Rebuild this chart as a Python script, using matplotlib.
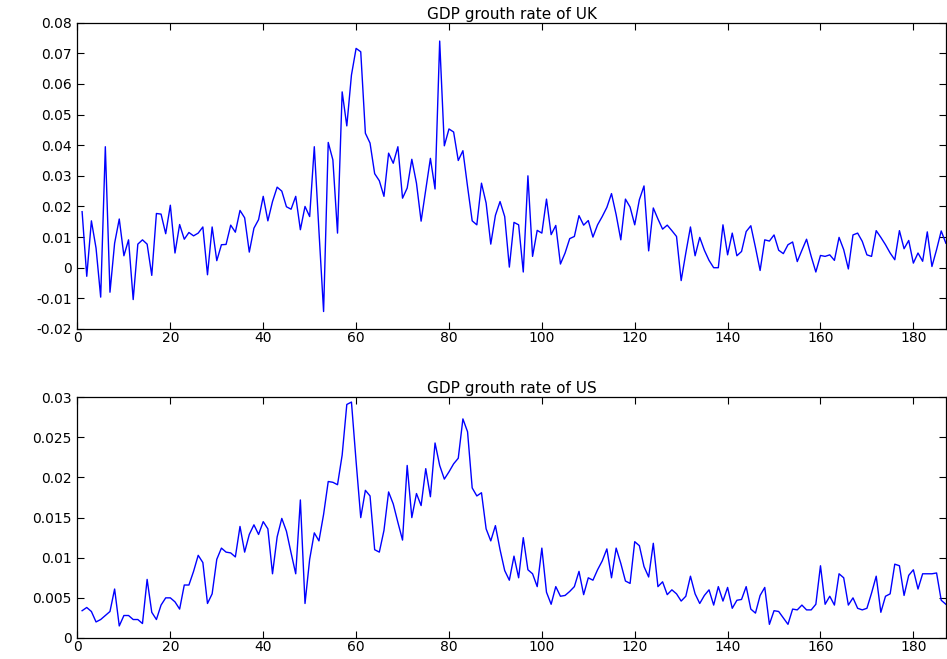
import matplotlib.pyplot as plt

# quarterly GDP growth rates (t = 1..187)
uk = [0.0183, -0.0028, 0.0153, 0.0064, -0.0096, 0.0395, -0.0080, 0.0080, 0.0159, 0.0039,
      0.0091, -0.0104, 0.0077, 0.0091, 0.0077, -0.0025, 0.0177, 0.0175, 0.0111, 0.0204,
      0.0048, 0.0141, 0.0093, 0.0115, 0.0104, 0.0113, 0.0133, -0.0023, 0.0133, 0.0023,
      0.0075, 0.0076, 0.0139, 0.0116, 0.0187, 0.0163, 0.0051, 0.0129, 0.0157, 0.0233,
      0.0153, 0.0216, 0.0263, 0.0250, 0.0199, 0.0191, 0.0233, 0.0124, 0.0200, 0.0167,
      0.0395, 0.0120, -0.0143, 0.0409, 0.0352, 0.0113, 0.0574, 0.0463, 0.0629, 0.0716,
      0.0705, 0.0439, 0.0407, 0.0307, 0.0284, 0.0233, 0.0374, 0.0341, 0.0395, 0.0227,
      0.0260, 0.0354, 0.0276, 0.0152, 0.0254, 0.0357, 0.0257, 0.0740, 0.0398, 0.0453,
      0.0443, 0.0350, 0.0382, 0.0265, 0.0153, 0.0140, 0.0276, 0.0211, 0.0077, 0.0171,
      0.0216, 0.0167, 0.0002, 0.0148, 0.0140, -0.0014, 0.0300, 0.0037, 0.0122, 0.0113,
      0.0224, 0.0108, 0.0138, 0.0012, 0.0048, 0.0095, 0.0102, 0.0170, 0.0139, 0.0154,
      0.0100, 0.0140, 0.0167, 0.0197, 0.0242, 0.0173, 0.0091, 0.0224, 0.0198, 0.0140,
      0.0222, 0.0267, 0.0055, 0.0195, 0.0159, 0.0126, 0.0139, 0.0121, 0.0102, -0.0042,
      0.0048, 0.0133, 0.0039, 0.0099, 0.0057, 0.0024, 0.0000, 0.0000, 0.0140, 0.0042,
      0.0113, 0.0039, 0.0053, 0.0118, 0.0137, 0.0066, -0.0009, 0.0091, 0.0087, 0.0107,
      0.0057, 0.0046, 0.0075, 0.0084, 0.0020, 0.0057, 0.0093, 0.0037, -0.0014, 0.0040,
      0.0037, 0.0042, 0.0024, 0.0099, 0.0059, -0.0004, 0.0107, 0.0113, 0.0086, 0.0042,
      0.0037, 0.0121, 0.0099, 0.0075, 0.0048, 0.0026, 0.0121, 0.0062, 0.0089, 0.0015,
      0.0048, 0.0021, 0.0117, 0.0004, 0.0059, 0.0120, 0.0080]

us = [0.0034, 0.0038, 0.0033, 0.0020, 0.0023, 0.0028, 0.0033, 0.0061, 0.0015, 0.0028,
      0.0028, 0.0023, 0.0023, 0.0018, 0.0073, 0.0032, 0.0023, 0.0041, 0.0050, 0.0050,
      0.0045, 0.0036, 0.0066, 0.0066, 0.0083, 0.0103, 0.0094, 0.0043, 0.0055, 0.0098,
      0.0112, 0.0107, 0.0106, 0.0101, 0.0139, 0.0107, 0.0129, 0.0141, 0.0129, 0.0145,
      0.0136, 0.0080, 0.0126, 0.0149, 0.0133, 0.0106, 0.0080, 0.0172, 0.0043, 0.0098,
      0.0131, 0.0121, 0.0154, 0.0195, 0.0194, 0.0191, 0.0228, 0.0291, 0.0294, 0.0220,
      0.0150, 0.0184, 0.0177, 0.0110, 0.0107, 0.0134, 0.0182, 0.0167, 0.0144, 0.0122,
      0.0215, 0.0150, 0.0180, 0.0165, 0.0211, 0.0176, 0.0243, 0.0215, 0.0198, 0.0207,
      0.0217, 0.0224, 0.0273, 0.0257, 0.0187, 0.0177, 0.0181, 0.0136, 0.0121, 0.0140,
      0.0110, 0.0084, 0.0072, 0.0102, 0.0075, 0.0125, 0.0085, 0.0080, 0.0064, 0.0112,
      0.0057, 0.0042, 0.0064, 0.0052, 0.0053, 0.0058, 0.0064, 0.0083, 0.0054, 0.0075,
      0.0072, 0.0085, 0.0096, 0.0111, 0.0075, 0.0112, 0.0093, 0.0071, 0.0068, 0.0120,
      0.0115, 0.0089, 0.0076, 0.0118, 0.0064, 0.0070, 0.0054, 0.0060, 0.0055, 0.0046,
      0.0052, 0.0077, 0.0055, 0.0043, 0.0053, 0.0060, 0.0041, 0.0064, 0.0046, 0.0063,
      0.0037, 0.0047, 0.0048, 0.0064, 0.0036, 0.0031, 0.0053, 0.0063, 0.0017, 0.0034,
      0.0033, 0.0025, 0.0017, 0.0036, 0.0035, 0.0041, 0.0035, 0.0035, 0.0042, 0.0090,
      0.0042, 0.0052, 0.0041, 0.0080, 0.0075, 0.0041, 0.0050, 0.0037, 0.0035, 0.0037,
      0.0056, 0.0077, 0.0032, 0.0052, 0.0055, 0.0092, 0.0090, 0.0053, 0.0078, 0.0085,
      0.0061, 0.0080, 0.0080, 0.0080, 0.0081, 0.0047, 0.0042]

t = list(range(1, len(uk) + 1))

xticks = [0, 20, 40, 60, 80, 100, 120, 140, 160, 180]
uk_yticks = [-0.02, -0.01, 0, 0.01, 0.02, 0.03, 0.04, 0.05, 0.06, 0.07, 0.08]
uk_ylabels = ['-0.02', '-0.01', '0', '0.01', '0.02', '0.03', '0.04', '0.05', '0.06', '0.07', '0.08']
us_yticks = [0, 0.005, 0.01, 0.015, 0.02, 0.025, 0.03]
us_ylabels = ['0', '0.005', '0.01', '0.015', '0.02', '0.025', '0.03']

plt.rcParams['font.family'] = ['DejaVu Sans']

fig = plt.figure(figsize=(9.47, 6.59), dpi=100)
ax1 = fig.add_axes([0.0818, 0.5008, 0.917, 0.4648])
ax2 = fig.add_axes([0.0818, 0.0319, 0.917, 0.3653])


def style(ax, yticks, ylabels, ylim, title):
    ax.set_xlim(0, 187)
    ax.set_ylim(*ylim)
    ax.set_xticks(xticks)
    ax.set_xticklabels([str(v) for v in xticks])
    ax.set_yticks(yticks)
    ax.set_yticklabels(ylabels)
    ax.tick_params(direction='in', length=5, width=0.8, top=True, right=True,
                   labelsize=10)
    ax.tick_params(axis='x', pad=1.5)
    ax.tick_params(axis='y', pad=4)
    for s in ax.spines.values():
        s.set_linewidth(0.9)
    ax.set_title(title, fontsize=11, pad=3)


ax1.plot(t, uk, color='#0000ff', linewidth=1.0)
style(ax1, uk_yticks, uk_ylabels, (-0.02, 0.08), 'GDP grouth rate of UK')

ax2.plot(t, us, color='#0000ff', linewidth=1.0)
style(ax2, us_yticks, us_ylabels, (0, 0.03), 'GDP grouth rate of US')

fig.savefig('out.png', dpi=100)
